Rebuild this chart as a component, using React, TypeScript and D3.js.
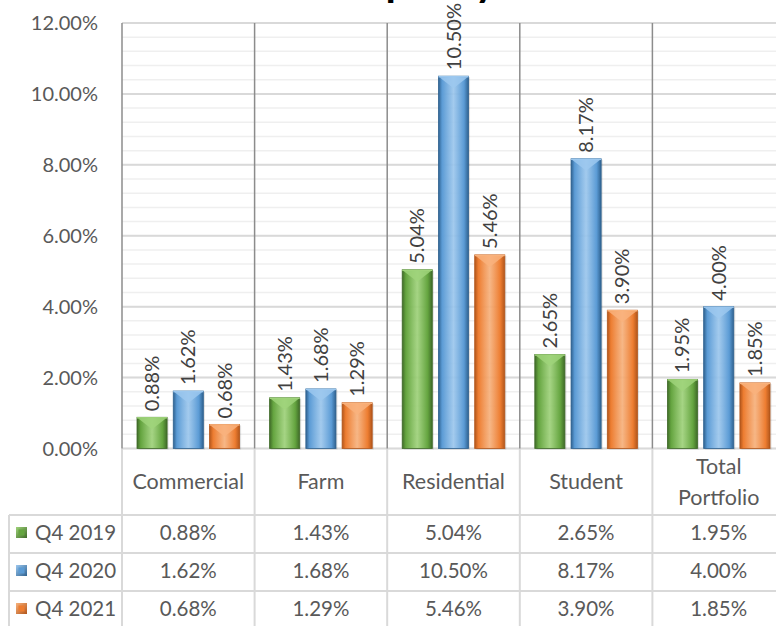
import React from "react";
import * as d3 from "d3";

const categories = ["Commercial", "Farm", "Residential", "Student", "Total Portfolio"];
const seriesNames = ["Q4 2019", "Q4 2020", "Q4 2021"];
const q4_2019 = [0.88, 1.43, 5.04, 2.65, 1.95];
const q4_2020 = [1.62, 1.68, 10.5, 8.17, 4.0];
const q4_2021 = [0.68, 1.29, 5.46, 3.9, 1.85];
const yTicks = [0, 2, 4, 6, 8, 10, 12];
const titleText = "Occupancy";

const seriesValues = [q4_2019, q4_2020, q4_2021];
const baseColors = ["#64a43f", "#5b9bd5", "#ed7d31"];
const darkColors = ["#3f6a28", "#2f6290", "#b2561b"];
const lightColors = ["#9fd37a", "#9cc8ef", "#f9b27c"];

const W = 776;
const H = 626;
const plotLeft = 122;
const colW = 132.6;
const plotRight = plotLeft + colW * 5;
const plotTop = 23;
const plotBottom = 448.5;
const rowLines = [515, 553, 591, 629];
const tableLeft = 9;
const FONT = "Lato, 'Open Sans', sans-serif";
const TXT = "#595959";

export default function App() {
  const x0 = d3.scaleBand<string>().domain(categories).range([plotLeft, plotRight]).padding(0);
  const x1 = d3
    .scaleBand<string>()
    .domain(seriesNames)
    .range([15, colW - 15])
    .paddingInner(0.17)
    .paddingOuter(0);
  const y = d3.scaleLinear().domain([0, 12]).range([plotBottom, plotTop]);
  const minorTicks = d3.range(0, 12.0001, 0.4);
  const fmt = (v: number) => v.toFixed(2) + "%";

  return (
    <svg
      width={W}
      height={H}
      style={{ position: "absolute", left: 0, top: 0, background: "#fff" }}
      fontFamily={FONT}
    >
      <defs>
        {baseColors.map((c, i) => (
          <linearGradient key={i} id={`g${i}`} x1="0" x2="1" y1="0" y2="0">
            <stop offset="0" stopColor={darkColors[i]} />
            <stop offset="0.12" stopColor={c} />
            <stop offset="0.5" stopColor={lightColors[i]} stopOpacity={0.9} />
            <stop offset="0.85" stopColor={c} />
            <stop offset="1" stopColor={darkColors[i]} />
          </linearGradient>
        ))}
        {baseColors.map((c, i) => (
          <linearGradient key={"k" + i} id={`k${i}`} x1="0" x2="1" y1="0" y2="1">
            <stop offset="0" stopColor={lightColors[i]} />
            <stop offset="1" stopColor={darkColors[i]} />
          </linearGradient>
        ))}
      </defs>

      {/* title (cropped at the top edge, as in the reference) */}
      <text x={288} y={-4} fontSize={42} fontWeight="bold" fill="#000">
        {titleText}
      </text>

      {/* minor gridlines */}
      {minorTicks.map((t, i) => (
        <line
          key={"m" + i}
          x1={plotLeft}
          x2={plotRight}
          y1={y(t)}
          y2={y(t)}
          stroke="#efefef"
          strokeWidth={1.5}
        />
      ))}
      {/* major gridlines */}
      {yTicks.map((t) => (
        <line
          key={"M" + t}
          x1={plotLeft}
          x2={plotRight}
          y1={y(t)}
          y2={y(t)}
          stroke="#d9d9d9"
          strokeWidth={2}
        />
      ))}
      {/* y tick labels */}
      {yTicks.map((t) => (
        <text
          key={"t" + t}
          x={98}
          y={y(t)}
          dy="0.35em"
          textAnchor="end"
          fontSize={20}
          fill={TXT}
        >
          {t.toFixed(2) + "%"}
        </text>
      ))}

      {/* table lines */}
      {rowLines.map((ly, i) => (
        <line
          key={"r" + i}
          x1={tableLeft}
          x2={plotRight}
          y1={ly}
          y2={ly}
          stroke="#d9d9d9"
          strokeWidth={2}
        />
      ))}
      <line x1={tableLeft} x2={tableLeft} y1={rowLines[0]} y2={H} stroke="#d9d9d9" strokeWidth={2} />
      {categories.map((c, i) => (
        <line
          key={"tv" + i}
          x1={x0(c)!}
          x2={x0(c)!}
          y1={plotBottom}
          y2={H}
          stroke="#d9d9d9"
          strokeWidth={2}
        />
      ))}

      {/* plot vertical separators */}
      {categories.map((c, i) => (
        <line
          key={"v" + i}
          x1={x0(c)!}
          x2={x0(c)!}
          y1={plotTop}
          y2={plotBottom}
          stroke="#8c8c8c"
          strokeWidth={1.5}
        />
      ))}

      {/* bars */}
      {categories.map((c, ci) =>
        seriesNames.map((s, si) => {
          const v = seriesValues[si][ci];
          const bx = x0(c)! + x1(s)!;
          const bw = x1.bandwidth();
          const by = y(v);
          const bh = plotBottom - by;
          const tri = Math.min(12, bh / 2);
          return (
            <g key={c + s}>
              <rect x={bx + 1.5} y={by + 1} width={bw} height={bh} fill="#000" opacity={0.12} />
              <rect x={bx} y={by} width={bw} height={bh} fill={`url(#g${si})`} />
              <rect x={bx} y={by} width={bw} height={bh} fill="none" stroke={darkColors[si]} strokeWidth={0.8} />
              <polygon
                points={`${bx + 1},${by + 1} ${bx + bw - 1},${by + 1} ${bx + bw / 2},${by + tri}`}
                fill={lightColors[si]}
                opacity={0.85}
              />
              <line x1={bx} x2={bx + bw} y1={by + 0.5} y2={by + 0.5} stroke={lightColors[si]} strokeWidth={1.5} />
              <text
                transform={`translate(${bx + bw / 2},${by - 6}) rotate(-90)`}
                dy="0.35em"
                textAnchor="start"
                fontSize={20}
                fill="#404040"
              >
                {fmt(v)}
              </text>
            </g>
          );
        })
      )}

      {/* category labels */}
      {categories.map((c) => {
        const cx = x0(c)! + colW / 2;
        const words = c.split(" ");
        const lines = words.length > 1 ? words : [c];
        const cy = (plotBottom + rowLines[0]) / 2;
        return (
          <text key={"c" + c} x={cx} textAnchor="middle" fontSize={21.5} fill={TXT}>
            {lines.map((ln, li) => (
              <tspan
                key={li}
                x={cx}
                y={cy + (li - (lines.length - 1) / 2) * 31}
                dy="0.35em"
              >
                {ln}
              </tspan>
            ))}
          </text>
        );
      })}

      {/* table rows */}
      {seriesNames.map((s, si) => {
        const cy = (rowLines[si] + rowLines[si + 1]) / 2 - 1;
        return (
          <g key={"row" + s}>
            <rect x={16} y={cy - 6} width={11} height={11} fill={`url(#k${si})`} />
            <rect x={18.5} y={cy - 3.5} width={6} height={6} fill={baseColors[si]} />
            <text x={35} y={cy} dy="0.35em" fontSize={20.5} fill={TXT}>
              {s}
            </text>
            {categories.map((c, ci) => (
              <text
                key={c}
                x={x0(c)! + colW / 2}
                y={cy}
                dy="0.35em"
                textAnchor="middle"
                fontSize={20.5}
                fill={TXT}
              >
                {fmt(seriesValues[si][ci])}
              </text>
            ))}
          </g>
        );
      })}
    </svg>
  );
}
